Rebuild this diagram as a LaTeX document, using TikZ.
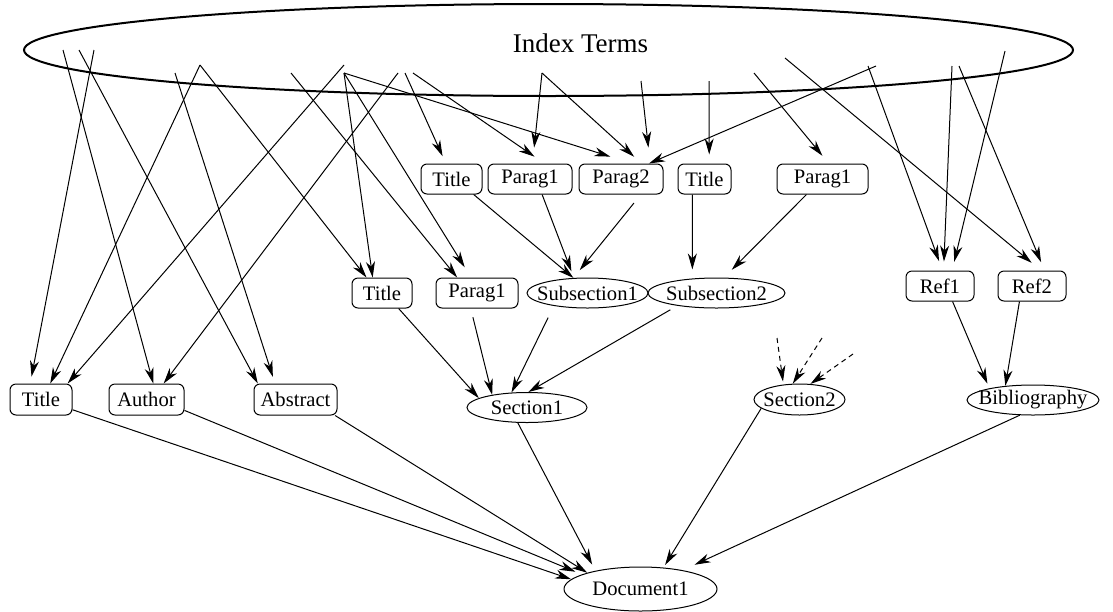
\documentclass[tikz,border=0pt]{standalone}
\usepackage{fontspec}
\setmainfont{Liberation Serif}
\usetikzlibrary{shapes,arrows.meta,positioning}

\newcommand{\boxfont}{\fontsize{20.6}{24}\selectfont}

\begin{document}
\begin{tikzpicture}[x=1pt,y=-1pt,line width=1pt,
    box/.style={draw,rounded corners=6pt,minimum height=30pt,inner sep=0pt,font=\boxfont},
    oval/.style={draw,ellipse,inner xsep=-12pt,inner ysep=-5pt,minimum height=30pt,font=\boxfont},
    link/.style={-{Stealth[length=16pt,width=9pt,inset=5pt]}},
    hint/.style={link,dash pattern=on 5pt off 4pt}]
    \useasboundingbox (0,0) rectangle (1113,611);

    % Index terms
    \node[draw,ellipse,line width=2pt,minimum width=1049pt,minimum height=92pt] (terms) at (548.5,50) {};
    \node[anchor=base,font=\fontsize{27}{32}\selectfont] (termlabel) at (580.5,52) {Index Terms};
    \coordinate (k1) at (63,50);
    \coordinate (k2) at (79,50);
    \coordinate (k3) at (94,50);
    \coordinate (k4) at (175,73);
    \coordinate (k5) at (200,65);
    \coordinate (k6) at (291,73);
    \coordinate (k7) at (344,65);
    \coordinate (k8) at (344,73);
    \coordinate (k9) at (398,73);
    \coordinate (k10) at (405,73);
    \coordinate (k11) at (413,73);
    \coordinate (k12) at (542,73);
    \coordinate (k13) at (641,81);
    \coordinate (k14) at (709,81);
    \coordinate (k15) at (754,73);
    \coordinate (k16) at (785,58);
    \coordinate (k17) at (868,66);
    \coordinate (k18) at (876,66);
    \coordinate (k19) at (952,66);
    \coordinate (k20) at (959,66);
    \coordinate (k21) at (1005,51);

    % Subsection parts
    \node[box,minimum width=61pt] (ti1) at (451.5,179) {Title};
    \node[box,minimum width=84pt] (pa1) at (530,179) {Parag1};
    \node[box,minimum width=84pt] (pa2) at (621,179) {Parag2};
    \node[box,minimum width=53pt] (ti2) at (704.5,179) {Title};
    \node[box,minimum width=91pt] (pa3) at (822.5,179) {Parag1};

    % Section parts and references
    \node[box,minimum width=60pt] (ti3) at (382,293) {Title};
    \node[box,minimum width=82pt] (pa4) at (477,293) {Parag1};
    \node[oval,minimum width=121pt] (sub1) at (587.5,293) {Subsection1};
    \node[oval,minimum width=137pt] (sub2) at (716.5,293) {Subsection2};
    \node[box,minimum width=68pt] (ref1) at (940,286) {Ref1};
    \node[box,minimum width=68pt] (ref2) at (1032,286) {Ref2};

    % Document parts
    \node[box,minimum width=62pt,minimum height=31pt] (ti4) at (41,399.5) {Title};
    \node[box,minimum width=75pt,minimum height=31pt] (auth) at (146.5,399.5) {Author};
    \node[box,minimum width=83pt,minimum height=31pt] (abst) at (295.5,399.5) {Abstract};
    \node[oval,minimum width=120pt] (sec1) at (527,407.5) {Section1};
    \node[oval,minimum width=91pt,minimum height=31pt] (sec2) at (799.5,399.5) {Section2};
    \node[oval,minimum width=132pt] (bib) at (1033,400) {Bibliography};
    \node[oval,minimum width=153pt,minimum height=44pt] (doc) at (640.5,589) {Document1};

    % Terms to parts
    \draw[link,shorten >=8pt] (k10) -- (ti1.110);
    \draw[link,shorten >=12pt] (k11) -- (pa1.47);
    \draw[link,shorten >=16pt] (k12) -- (pa1.81);
    \draw[link,shorten >=23pt] (k8) -- (pa2.54);
    \draw[link,shorten >=10pt] (k12) -- (pa2.37);
    \draw[link,shorten >=16pt] (k13) -- (pa2.28);
    \draw[link] (k18) -- (pa2.29);
    \draw[link,shorten >=9pt] (k14) -- (ti2.73);
    \draw[link,shorten >=10pt] (k15) -- (pa3.68);
    \draw[link] (k5) -- (ti3.135);
    \draw[link] (k8) -- (ti3.121);
    \draw[link] (k6) -- (pa4.142);
    \draw[link,shorten >=12pt] (k8) -- (pa4.111);
    \draw[link,shorten >=7pt] (k3) -- (ti4.124);
    \draw[link] (k5) -- (ti4.60);
    \draw[link] (k7) -- (ti4.31);
    \draw[link] (k1) -- (auth.67);
    \draw[link] (k9) -- (auth.43);
    \draw[link] (k2) -- (abst.157);
    \draw[link,shorten >=7pt] (k4) -- (abst.142);
    \draw[link,shorten >=10pt] (k17) -- (ref1.81);
    \draw[link,shorten >=9pt] (k19) -- (ref1.77);
    \draw[link,shorten >=9pt] (k21) -- (ref1.52);
    \draw[link,shorten >=12pt] (k16) -- (ref2.60);
    \draw[link,shorten >=9pt] (k20) -- (ref2.51);

    % Parts to sections
    \draw[link] (ti1.-35) -- (sub1.133);
    \draw[link,shorten >=7pt] (pa1.-52) -- (sub1.132);
    \draw[link,shorten <=11pt,shorten >=10pt] (pa2.-38) -- (sub1.133);
    \draw[link,shorten >=9pt] (ti2.-128) -- (sub2.149);
    \draw[link,shorten >=11pt] (pa3.-136) -- (sub2.64);
    \draw[link] (ti3.-43) -- (sec1.169);
    \draw[link,shorten <=9pt] (pa4.-112) -- (sec1.160);
    \draw[link,shorten <=13pt] (sub1.-159) -- (sec1.136);
    \draw[link,shorten <=8pt] (sub2.-162) -- (sec1.85);
    \draw[link,shorten >=5pt] (ref1.-51) -- (bib.165);
    \draw[link] (ref2.-129) -- (bib.153);

    % Section2 gets more
    \coordinate (h1) at (777,338);
    \coordinate (h2) at (822,338);
    \coordinate (h3) at (853,354);
    \draw[hint,shorten >=3pt] (h1) -- (sec2.137);
    \draw[hint] (h2) -- (sec2.113);
    \draw[hint] (h3) -- (sec2.55);

    % Into the document
    \draw[link] (ti4.-18) -- (doc.172);
    \draw[link,shorten >=7pt] (auth.-16) -- (doc.166);
    \draw[link] (abst.-22) -- (doc.163);
    \draw[link,shorten >=7pt] (sec1.-121) -- (doc.158);
    \draw[link,shorten >=3pt] (sec2.-167) -- (doc.43);
    \draw[link,shorten >=13pt] (bib.-131) -- (doc.24);
\end{tikzpicture}
\end{document}
